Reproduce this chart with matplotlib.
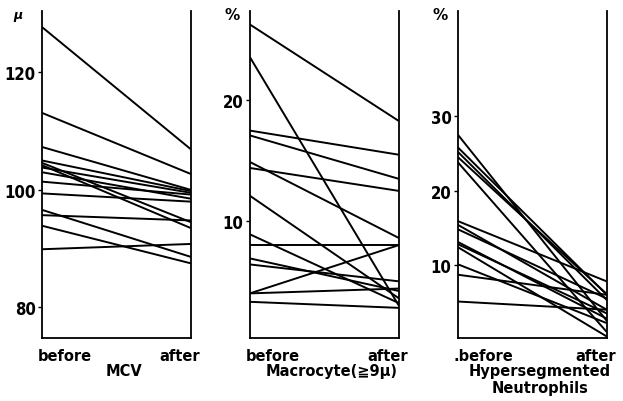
import matplotlib.pyplot as plt
import numpy as np

# MCV (fl)
mcv_before = [127.7, 113.1, 107.3, 105.0, 104.6, 104.2, 103.8, 103.0, 101.4, 99.4, 96.6, 95.7, 93.9, 89.9]
mcv_after = [106.9, 102.7, 100.0, 99.8, 94.5, 93.5, 99.5, 98.5, 99.2, 98.0, 88.6, 94.8, 87.5, 90.8]

# Macrocyte (>= 9 micron), %
mac_before = [26.3, 23.6, 17.5, 17.1, 14.9, 14.4, 12.1, 8.9, 8.0, 6.9, 6.4, 4.0, 4.0, 3.3]
mac_after = [18.3, 3.0, 15.5, 13.5, 8.6, 12.5, 3.6, 3.2, 8.0, 4.2, 5.0, 8.0, 4.4, 2.8]

# Hypersegmented neutrophils, %
hyp_before = [27.5, 25.8, 25.2, 24.5, 23.8, 15.9, 15.4, 14.8, 13.1, 12.8, 12.4, 10.1, 8.7, 5.1]
hyp_after = [2.5, 6.0, 5.3, 6.1, 1.0, 7.8, 4.0, 5.5, 2.8, 3.5, 0.4, 2.2, 6.0, 4.0]

plt.rcParams['font.family'] = ['DejaVu Sans']

fig = plt.figure(figsize=(6.23, 4.02), dpi=100)

panels = [
    (mcv_before, mcv_after, [80, 100, 120], (74.8, 130.4), 'μ', 'MCV', 'before'),
    (mac_before, mac_after, [10, 20], (0.3, 27.4), '%', 'Macrocyte(≧9μ)', 'before'),
    (hyp_before, hyp_after, [10, 20, 30], (0.2, 44.1), '%', 'Hypersegmented\nNeutrophils', '.before'),
]
lefts = [0.0674, 0.401, 0.735]

for left, (b, a, ticks, ylim, unit, name, blab) in zip(lefts, panels):
    ax = fig.add_axes([left, 0.1567, 0.239, 0.813])
    for y0, y1 in zip(b, a):
        ax.plot([0, 1], [y0, y1], color='black', lw=1.4, solid_capstyle='butt')
    ax.set_xlim(0, 1)
    ax.set_ylim(*ylim)
    ax.set_xticks([])
    ax.set_yticks(ticks)
    ax.tick_params(axis='y', direction='out', length=3, width=1, pad=1.5, labelsize=12)
    for lab in ax.get_yticklabels():
        lab.set_fontweight('bold')
        lab.set_fontstretch('condensed')
    ax.spines['top'].set_visible(False)
    for s in ['left', 'right', 'bottom']:
        ax.spines[s].set_linewidth(1.3)
    ax.text(-0.03, -0.052, blab, transform=ax.transAxes, ha='left', va='center',
            fontsize=10.5, fontweight='bold')
    ax.text(1.06, -0.052, 'after', transform=ax.transAxes, ha='right', va='center',
            fontsize=10.5, fontweight='bold')
    ax.text(0.55, -0.078, name, transform=ax.transAxes, ha='center', va='top',
            fontsize=10.5, fontweight='bold', linespacing=1.1)
    ax.text(-0.16 if unit == 'μ' else -0.12, 0.99, unit, transform=ax.transAxes,
            ha='center', va='center',
            fontsize=11 if unit == '%' else 9, fontweight='bold',
            style='normal' if unit == '%' else 'italic')

fig.savefig('out.png', dpi=100)
